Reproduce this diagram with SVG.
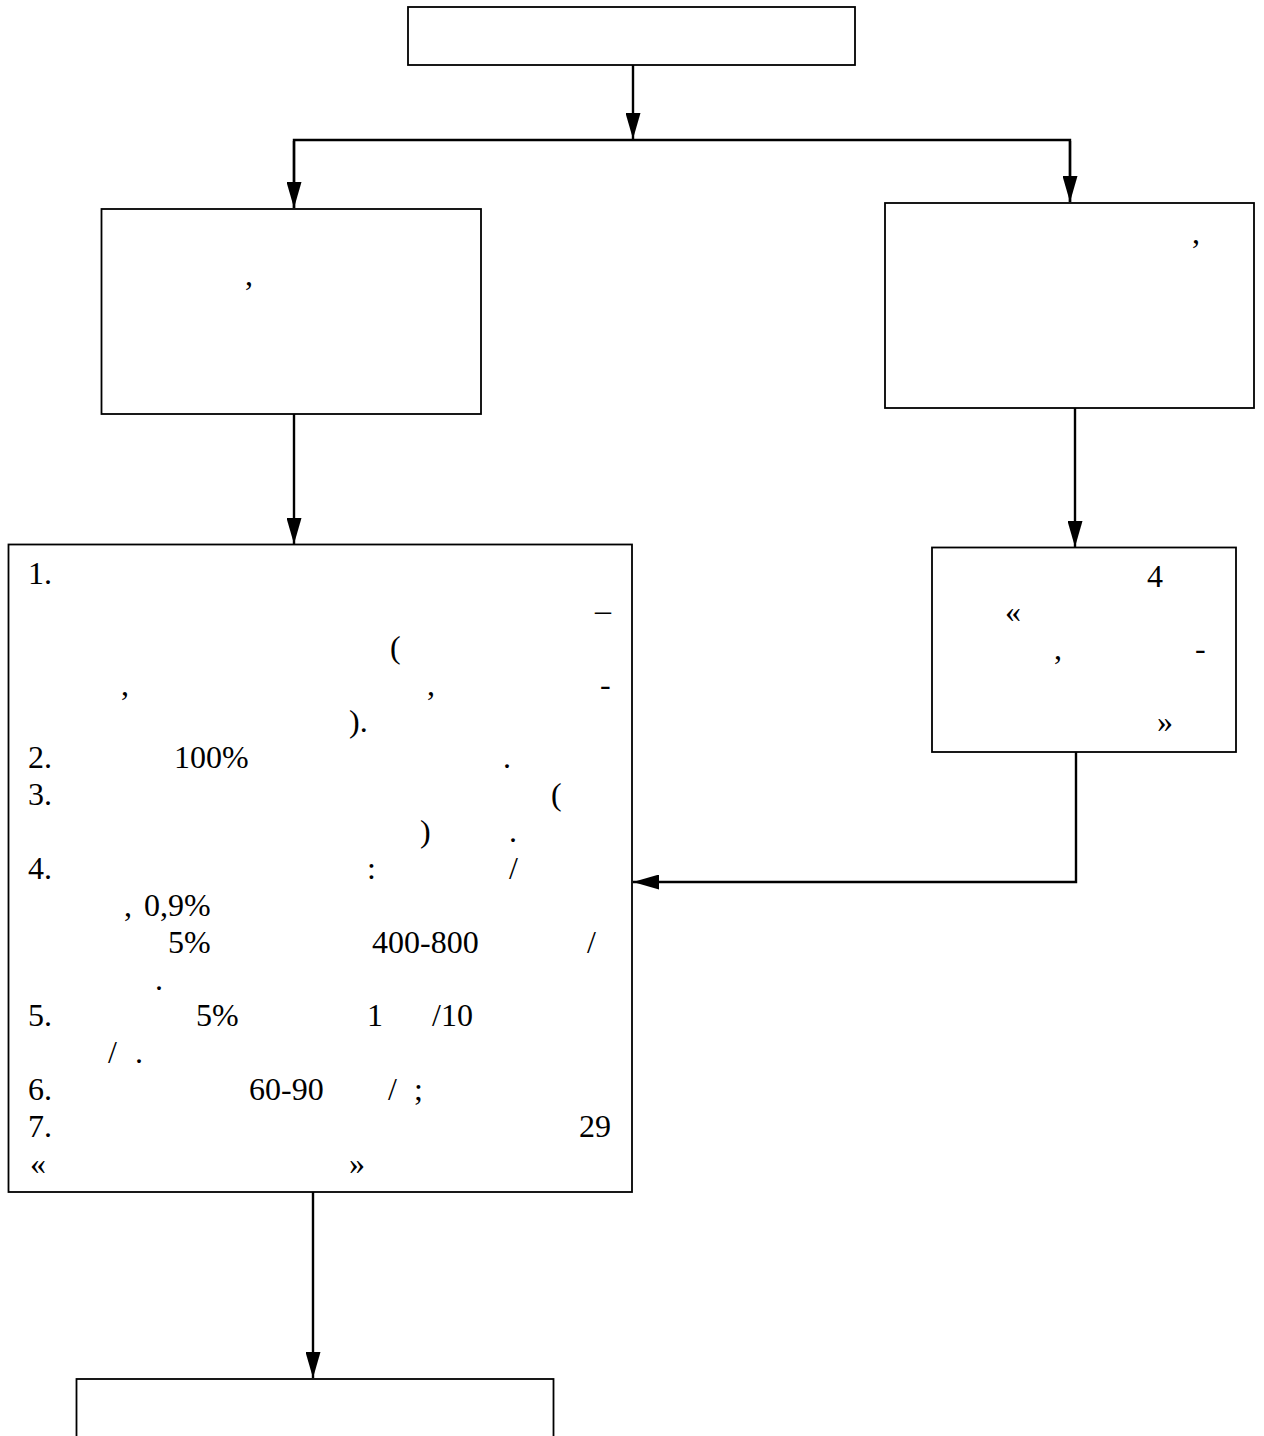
<svg xmlns="http://www.w3.org/2000/svg" width="1264" height="1436" viewBox="0 0 1264 1436">
<style>
.box{fill:#fff;stroke:#000;stroke-width:1.8}
.ln{fill:none;stroke:#000;stroke-width:2.4}
text{font-family:"Liberation Serif","Times New Roman",serif;font-size:32px;fill:#000}
</style>
<defs>
<marker id="ah" markerUnits="userSpaceOnUse" markerWidth="26" markerHeight="15" refX="26" refY="7.5" orient="auto">
<path d="M0,0 L26,7.5 L0,15 Z" fill="#000"/>
</marker>
</defs>
<rect width="1264" height="1436" fill="#fff"/>
<g id="connectors">
<line class="ln" x1="633" y1="65" x2="633" y2="139" marker-end="url(#ah)"/>
<polyline class="ln" points="294,208 294,140 1070,140 1070,202" />
<line class="ln" x1="294" y1="141" x2="294" y2="208" marker-end="url(#ah)"/>
<line class="ln" x1="1070" y1="141" x2="1070" y2="202" marker-end="url(#ah)"/>
<line class="ln" x1="294" y1="414" x2="294" y2="544" marker-end="url(#ah)"/>
<line class="ln" x1="1075" y1="408" x2="1075" y2="547" marker-end="url(#ah)"/>
<polyline class="ln" points="1076,752 1076,882 633,882" marker-end="url(#ah)"/>
<line class="ln" x1="313" y1="1192" x2="313" y2="1378" marker-end="url(#ah)"/>
</g>
<g id="top">
<rect class="box" x="408" y="7" width="447" height="58"/>
</g>
<g id="left">
<rect class="box" x="101.5" y="209" width="379.5" height="205"/>
<text x="245" y="285">,</text>
</g>
<g id="right">
<rect class="box" x="885" y="203" width="369" height="205"/>
<text x="1192" y="243">,</text>
</g>
<g id="main">
<rect class="box" x="8.5" y="544.5" width="623.5" height="647.5"/>
<text x="28" y="584">1.</text>
<text x="595" y="621">–</text>
<text x="390" y="658">(</text>
<text x="121" y="695">,</text>
<text x="427" y="695">,</text>
<text x="600" y="695">-</text>
<text x="349" y="732">).</text>
<text x="28" y="768">2.</text>
<text x="174" y="768">100%</text>
<text x="503" y="768">.</text>
<text x="28" y="805">3.</text>
<text x="551" y="805">(</text>
<text x="420" y="842">)</text>
<text x="509" y="842">.</text>
<text x="28" y="879">4.</text>
<text x="367" y="879">:</text>
<text x="509" y="879">/</text>
<text x="124" y="916">,</text>
<text x="144" y="916">0,9%</text>
<text x="168" y="953">5%</text>
<text x="372" y="953">400-800</text>
<text x="587" y="953">/</text>
<text x="155" y="990">.</text>
<text x="28" y="1026">5.</text>
<text x="196" y="1026">5%</text>
<text x="367" y="1026">1</text>
<text x="432" y="1026">/10</text>
<text x="108" y="1063">/</text>
<text x="135" y="1063">.</text>
<text x="28" y="1100">6.</text>
<text x="249" y="1100">60-90</text>
<text x="388" y="1100">/</text>
<text x="414" y="1100">;</text>
<text x="28" y="1137">7.</text>
<text x="579" y="1137">29</text>
<text x="30" y="1174">«</text>
<text x="349" y="1174">»</text>
</g>
<g id="small">
<rect class="box" x="932" y="547.5" width="304" height="204.5"/>
<text x="1147" y="587">4</text>
<text x="1005" y="622">«</text>
<text x="1054" y="659">,</text>
<text x="1195" y="659">-</text>
<text x="1157" y="732">»</text>
</g>
<g id="bottom">
<rect class="box" x="76.5" y="1379" width="477" height="70"/>
</g>
</svg>
